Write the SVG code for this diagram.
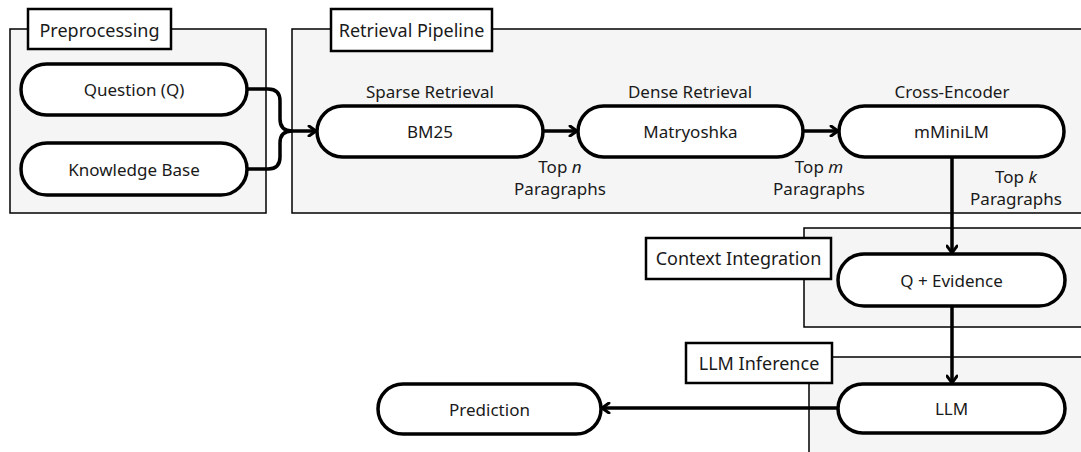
<svg xmlns="http://www.w3.org/2000/svg" width="1081" height="452" viewBox="0 0 1081 452">
<defs>
<style>
.cl{fill:#f5f5f5;stroke:#000;stroke-width:1.5}
.lb{fill:#fff;stroke:#000;stroke-width:2.5}
.nd{fill:#fff;stroke:#000;stroke-width:3.5}
.t{font-family:"Noto Sans","Liberation Sans",sans-serif;font-size:17px;fill:#1a1a1a;text-anchor:middle;dominant-baseline:central}
.lt{font-size:18px}
.e{fill:none;stroke:#000;stroke-width:3.5}
</style>
<marker id="ah" viewBox="0 0 12 12" refX="10" refY="6" markerWidth="12" markerHeight="12" markerUnits="userSpaceOnUse" orient="auto">
<polyline points="3,1 10,6 3,11" fill="none" stroke="#000" stroke-width="3" stroke-linecap="round" stroke-linejoin="round"/>
</marker>
</defs>
<rect width="1081" height="452" fill="#fff"/>
<g id="cluster-preprocessing">
<rect class="cl" x="10" y="29" width="256" height="184"/>
<rect class="lb" x="28" y="9" width="143" height="40"/>
<text class="t lt" x="99.5" y="29.5">Preprocessing</text>
</g>
<g id="cluster-retrieval">
<rect class="cl" x="292" y="29" width="800" height="184"/>
<rect class="lb" x="331" y="9" width="161" height="42"/>
<text class="t lt" x="411.5" y="30">Retrieval Pipeline</text>
</g>
<g id="cluster-context">
<rect class="cl" x="804" y="228" width="290" height="99"/>
<rect class="lb" x="646" y="238" width="185" height="41"/>
<text class="t lt" x="738.5" y="258">Context Integration</text>
</g>
<g id="cluster-llm">
<rect class="cl" x="809" y="357" width="290" height="110"/>
<rect class="lb" x="686" y="343" width="146" height="40"/>
<text class="t lt" x="759" y="362.5">LLM Inference</text>
</g>
<g id="connectors">
<path class="e" d="M247,89 H268 Q280,89 280,101 V119 Q280,131 292,131"/>
<path class="e" d="M247,169 H268 Q280,169 280,157 V143 Q280,131 292,131 H316" marker-end="url(#ah)"/>
<path class="e" d="M543,131 H577" marker-end="url(#ah)"/>
<path class="e" d="M803,131 H838" marker-end="url(#ah)"/>
<path class="e" d="M952,157 V253" marker-end="url(#ah)"/>
<path class="e" d="M952,306 V383" marker-end="url(#ah)"/>
<path class="e" d="M838,408 H602" marker-end="url(#ah)"/>
<text class="t" x="560" y="166">Top <tspan font-style="italic">n</tspan></text>
<text class="t" x="560" y="188">Paragraphs</text>
<text class="t" x="819" y="166">Top <tspan font-style="italic">m</tspan></text>
<text class="t" x="819" y="188">Paragraphs</text>
<text class="t" x="1016" y="176">Top <tspan font-style="italic">k</tspan></text>
<text class="t" x="1016" y="198">Paragraphs</text>
</g>
<g id="node-question">
<rect class="nd" x="21" y="64" width="226" height="51" rx="25.5"/>
<text class="t" x="134" y="89.5">Question (Q)</text>
</g>
<g id="node-kb">
<rect class="nd" x="21" y="143" width="226" height="52" rx="26"/>
<text class="t" x="134" y="169">Knowledge Base</text>
</g>
<g id="node-bm25">
<text class="t" x="430" y="91">Sparse Retrieval</text>
<rect class="nd" x="317" y="106" width="226" height="51" rx="25.5"/>
<text class="t" x="430" y="131.5">BM25</text>
</g>
<g id="node-matryoshka">
<text class="t" x="690" y="91">Dense Retrieval</text>
<rect class="nd" x="578" y="106" width="225" height="51" rx="25.5"/>
<text class="t" x="690.5" y="131.5">Matryoshka</text>
</g>
<g id="node-mminilm">
<text class="t" x="952" y="91">Cross-Encoder</text>
<rect class="nd" x="839" y="106" width="225" height="51" rx="25.5"/>
<text class="t" x="951.5" y="131.5">mMiniLM</text>
</g>
<g id="node-evidence">
<rect class="nd" x="838" y="254" width="227" height="52" rx="26"/>
<text class="t" x="951.5" y="280">Q + Evidence</text>
</g>
<g id="node-llm">
<rect class="nd" x="838" y="384" width="227" height="49" rx="24.5"/>
<text class="t" x="951.5" y="408.5">LLM</text>
</g>
<g id="node-prediction">
<rect class="nd" x="378" y="384" width="223" height="50" rx="25"/>
<text class="t" x="489.5" y="409">Prediction</text>
</g>
</svg>
